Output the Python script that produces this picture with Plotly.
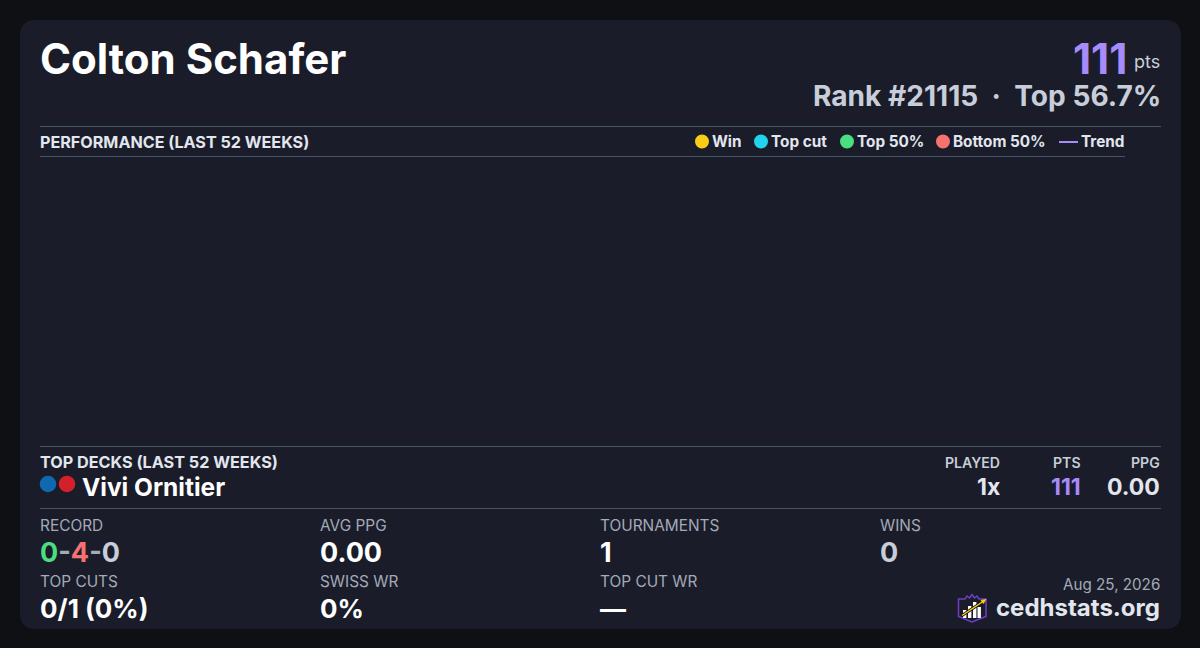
"""
Player summary card - Colton Schafer
Empty performance panel with a legend, top deck row and stat tiles.
"""

import plotly.graph_objects as go

WIDTH = 1200
HEIGHT = 648
FONT = "Inter"

BG = "#0f1014"
CARD = "#1a1d29"
RULE = "#475569"
WHITE = "#ffffff"
LIGHT = "#e2e6ef"
GREY = "#c8ced9"
MUTED = "#a3aab8"
PURPLE = "#a78bfa"
GREEN = "#4ade80"
RED = "#f87171"

player = "Colton Schafer"
points = "111"
rank_line = "Rank #21115  ·  Top 56.7%"
legend_names = ["Win", "Top cut", "Top 50%", "Bottom 50%"]
legend_colors = ["#facc15", "#22d3ee", "#4ade80", "#f87171"]
legend_dot_x = [702, 761, 847, 943]
legend_text_x = [712, 771, 857, 953]

deck_name = "Vivi Ornitier"
deck_colors = ["#0f68b0", "#d3202a"]
deck_headers = ["PLAYED", "PTS", "PPG"]
deck_values = ["1x", "111", "0.00"]
deck_right_x = [1000, 1080.5, 1160]
deck_value_colors = [LIGHT, PURPLE, LIGHT]

stat_row1_labels = ["RECORD", "AVG PPG", "TOURNAMENTS", "WINS"]
stat_row1_values = [
    f'<span style="color:{GREEN}">0</span><span style="color:{MUTED}">-</span>'
    f'<span style="color:{RED}">4</span><span style="color:{MUTED}">-</span>'
    f'<span style="color:{GREY}">0</span>',
    "0.00",
    "1",
    f'<span style="color:{GREY}">0</span>',
]
stat_row2_labels = ["TOP CUTS", "SWISS WR", "TOP CUT WR"]
stat_row2_values = ["0/1 (0%)", "0%", "—"]
stat_x = [40, 320, 600, 880]

logo_bar_left = [963, 968, 973, 977.5]
logo_bar_top = [610, 606, 602, 607]

fig = go.Figure()
annotations = []
shapes = []


def text(x, y, s, size, color, weight=400, anchor="left"):
    annotations.append(dict(
        x=x, y=y, text=s, showarrow=False, xanchor=anchor, yanchor="middle",
        borderpad=0, borderwidth=0,
        font=dict(family=FONT, size=size, color=color, weight=weight),
    ))


def rule(x0, x1, y):
    shapes.append(dict(type="line", x0=x0, x1=x1, y0=y, y1=y,
                       line=dict(color=RULE, width=1)))


def dot(cx, cy, r, color):
    shapes.append(dict(type="circle", x0=cx - r, x1=cx + r, y0=cy - r, y1=cy + r,
                       fillcolor=color, line=dict(width=0)))


# Card
shapes.append(dict(
    type="path",
    path="M 36 20 H 1165 Q 1181 20 1181 36 V 613 Q 1181 629 1165 629 "
         "H 36 Q 20 629 20 613 V 36 Q 20 20 36 20 Z",
    fillcolor=CARD, line=dict(width=0), layer="below",
))

# Header
text(40, 58, player, 42, WHITE, 700)
text(1127, 58, points, 42, PURPLE, 700, "right")
text(1159.5, 61, "pts", 18, GREY, 400, "right")
text(1160.5, 96, rank_line, 28.1, GREY, 700, "right")

# Performance panel header and legend
rule(40, 1161, 126.5)
rule(40, 1125, 156.5)
text(40, 142, "PERFORMANCE (LAST 52 WEEKS)", 16.15, LIGHT, 700)
for name, color, dx, tx in zip(legend_names, legend_colors, legend_dot_x, legend_text_x):
    dot(dx, 141.5, 7, color)
    text(tx, 141.5, name, 15.3, LIGHT, 700)
shapes.append(dict(type="line", x0=1059, x1=1078, y0=142, y1=142,
                   line=dict(color=PURPLE, width=2)))
text(1081, 141.5, "Trend", 15.3, LIGHT, 700)

# Top decks
rule(40, 1161, 446.5)
rule(40, 1161, 508.5)
text(40, 462, "TOP DECKS (LAST 52 WEEKS)", 16.2, LIGHT, 700)
dot(48, 484, 8.3, deck_colors[0])
dot(67, 484, 8.3, deck_colors[1])
text(82, 487, deck_name, 24.5, WHITE, 700)
for head, val, rx, col in zip(deck_headers, deck_values, deck_right_x, deck_value_colors):
    text(rx, 462, head, 14.1, GREY, 600, "right")
    text(rx, 487, val, 23, col, 700, "right")

# Stat tiles
for x, lab, val in zip(stat_x, stat_row1_labels, stat_row1_values):
    text(x, 525.5, lab, 15.4, MUTED, 400)
    text(x, 552, val, 27, WHITE, 700)
for x, lab, val in zip(stat_x, stat_row2_labels, stat_row2_values):
    text(x, 581.5, lab, 15.4, MUTED, 400)
    text(x, 608, val, 26, WHITE, 700)

# Footer brand
text(1160, 584, "Aug 25, 2026", 15.2, MUTED, 400, "right")
text(1160, 607.5, "cedhstats.org", 24, LIGHT, 700, "right")

shapes.append(dict(
    type="path",
    path="M 958.5 599 L 965 599 L 967 596 L 969.5 598 L 972 594.5 L 974.5 598 L 977 596 "
         "L 979 599 L 986 599 L 986 616.5 L 972 622 L 958.5 616.5 Z",
    fillcolor="rgba(0,0,0,0)", line=dict(color="#6d3fc4", width=1.5),
))
for bx, top in zip(logo_bar_left, logo_bar_top):
    shapes.append(dict(type="rect", x0=bx, x1=bx + 3.4, y0=top, y1=618,
                       fillcolor=WHITE, line=dict(width=0)))
shapes.append(dict(type="line", x0=962, y0=615.5, x1=983, y1=601.5,
                   line=dict(color="#111111", width=3)))
shapes.append(dict(type="line", x0=962, y0=615.5, x1=983, y1=601.5,
                   line=dict(color="#facc15", width=1.5)))
shapes.append(dict(type="path", path="M 986.5 599 L 980.5 600 L 983.5 604 Z",
                   fillcolor="#facc15", line=dict(width=0)))

fig.update_layout(
    width=WIDTH,
    height=HEIGHT,
    margin=dict(l=0, r=0, t=0, b=0),
    paper_bgcolor=BG,
    plot_bgcolor=BG,
    showlegend=False,
    xaxis=dict(range=[0, WIDTH], visible=False, fixedrange=True),
    yaxis=dict(range=[HEIGHT, 0], visible=False, fixedrange=True),
    annotations=annotations,
    shapes=shapes,
)

# page body has a default margin, drop it so the card sits at 0,0
fig.write_html(
    "out.html",
    config={"displayModeBar": False},
    post_script=f"document.body.style.margin='0';document.body.style.background='{BG}';",
)
